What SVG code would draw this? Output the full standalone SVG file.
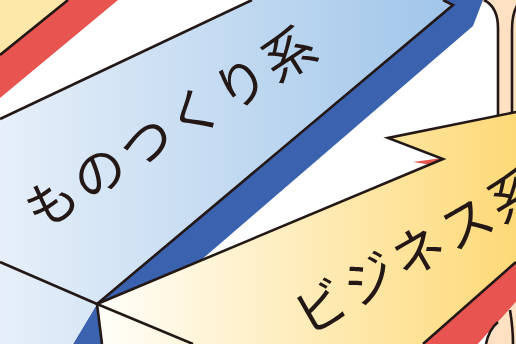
<svg xmlns="http://www.w3.org/2000/svg" width="516" height="344" viewBox="0 0 516 344">
<defs>
<linearGradient id="gBlue" gradientUnits="userSpaceOnUse" x1="0" y1="0" x2="460" y2="0">
<stop offset="0" stop-color="#e6eff9"/>
<stop offset="1" stop-color="#9fc5e9"/>
</linearGradient>
<linearGradient id="gYel" gradientUnits="userSpaceOnUse" x1="97" y1="0" x2="516" y2="0">
<stop offset="0" stop-color="#fffefa"/>
<stop offset="1" stop-color="#fdd977"/>
</linearGradient>
<style>
.ln{fill:none;stroke:#231815;stroke-width:2.6;stroke-linejoin:miter;stroke-linecap:butt}
.red{fill:#e85450}
.dk{fill:#3a62ae}
.peach{fill:#fde1c2}
.lbl{font-family:"Noto Sans CJK JP","Noto Sans",sans-serif;font-size:52px;fill:#231815;text-anchor:middle;dominant-baseline:central}
</style>
</defs>
<rect width="516" height="344" fill="#ffffff"/>
<g id="topleft">
<polygon points="0,0 68,0 0,55" fill="#fde7a9"/>
<polygon class="red" points="68,0 118,0 0,98 0,55"/>
<path class="ln" d="M0,55 L68,0"/>
</g>
<g id="peach-top">
<path class="peach" d="M482,0 L516,0 L516,130 L498,130 L498,28 C498,12 492,4 482,2 Z"/>
<path class="ln" d="M498,130 L498,28 C498,12 492,4 484,0"/>
<path class="ln" d="M512,130 L512,30 C512,18 514,10 518,4"/>
</g>
<g id="monozukuri">
<polygon class="dk" points="443,0 483,0 473,26 200,261 97,304 453,5"/>
<polygon class="dk" points="97,304 73,344 102,344"/>
<polygon fill="url(#gBlue)" points="0,119 252,0 443,0 453,5 97,304 73,344 0,344"/>
<path class="ln" d="M0,119 L252,0"/>
<path class="ln" d="M443,0 L453,5 L97,304"/>
<path class="ln" d="M0,262 L97,304"/>
<text class="lbl" transform="translate(170,124) rotate(-32)" letter-spacing="4">ものつくり系</text>
</g>
<g id="business">
<polygon fill="url(#gYel)" points="97,304 443,159 388,138 516,112 516,262 423,344 102,344"/>
<polygon class="red" points="413,162 442,158 432,165"/>
<polygon class="red" points="516,262 423,344 478,344 516,302"/>
<polygon class="peach" points="478,344 516,302 516,344"/>
<polygon fill="#ffffff" points="478,344 497,323 486,344"/>
<path class="ln" d="M486,344 C488,334 492,327 498,322"/>
<path class="ln" d="M510,310 C512,322 513,332 513,344"/>
<path class="ln" d="M97,304 L443,159 L388,138 L516,112"/>
<path class="ln" d="M516,262 L423,344"/>
<path class="ln" d="M97,304 L193,344"/>
<path class="ln" d="M97,304 L102,344"/>
<text class="lbl" transform="translate(418,247) rotate(-30)" letter-spacing="4">ビジネス系</text>
</g>
</svg>
